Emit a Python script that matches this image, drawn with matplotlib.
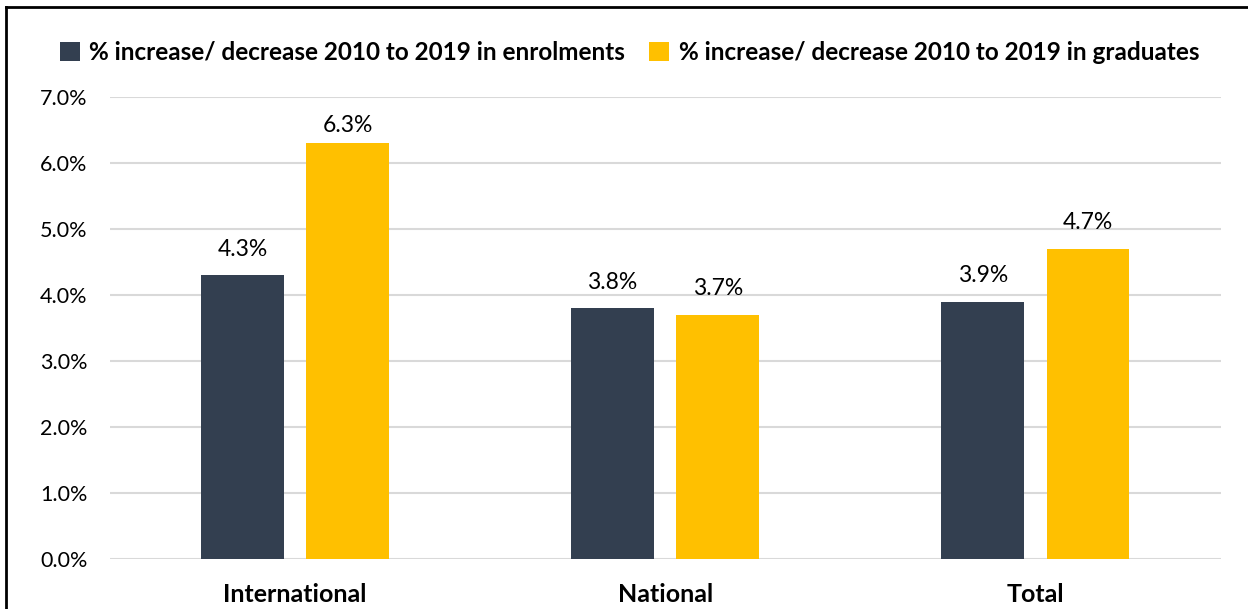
import numpy as np
import matplotlib.pyplot as plt
from matplotlib.lines import Line2D

plt.rcParams['font.family'] = ['Lato', 'DejaVu Sans']

categories = ['International', 'National', 'Total']
enrolments = [4.3, 3.8, 3.9]
graduates = [6.3, 3.7, 4.7]
series_names = ['% increase/ decrease 2010 to 2019 in enrolments',
                '% increase/ decrease 2010 to 2019 in graduates']
colors = ['#333F50', '#FFC000']

fig = plt.figure(figsize=(12.48, 6.09), dpi=100)
ax = fig.add_axes([0.088, 0.082, 0.89, 0.759])

x = np.arange(len(categories))
w = 0.224
off = 0.142
b1 = ax.bar(x - off, enrolments, w, color=colors[0], label=series_names[0], zorder=3)
b2 = ax.bar(x + off, graduates, w, color=colors[1], label=series_names[1], zorder=3)

# keep value labels inside the plot area
label_ceiling = 6.18
for bars, vals in ((b1, enrolments), (b2, graduates)):
    for r, v in zip(bars, vals):
        ax.annotate(f'{v:.1f}%', (r.get_x() + r.get_width() / 2, min(v, label_ceiling)),
                    xytext=(0, 11), textcoords='offset points',
                    ha='center', va='bottom', fontsize=16.5, color='#000000')

ax.set_xlim(-0.5, 2.5)
ax.set_ylim(0, 7)
ax.set_yticks(np.arange(0, 7.01, 1))
ax.set_yticklabels([f'{t:.1f}%' for t in np.arange(0, 7.01, 1)], fontsize=15.5)
ax.set_xticks(x)
ax.set_xticklabels(categories, fontsize=18, fontweight='bold')
ax.tick_params(length=0)
ax.tick_params(axis='y', pad=16)
ax.tick_params(axis='x', pad=17)
ax.grid(axis='y', color='#D9D9D9', linewidth=1.5, zorder=0)
for s in ax.spines.values():
    s.set_visible(False)

ax.legend(loc='lower center', bbox_to_anchor=(0.468, 1.05), ncol=2, frameon=False,
          prop={'size': 17.5, 'weight': 'bold'}, handlelength=0.8, handleheight=0.8,
          handletextpad=0.4, columnspacing=1.0, borderaxespad=0)

# outer frame (top and left edges)
fig.add_artist(Line2D([6 / 1248, 6 / 1248], [0, 1 - 7 / 609], color='black', lw=2))
fig.add_artist(Line2D([6 / 1248, 1], [1 - 7 / 609, 1 - 7 / 609], color='black', lw=2))

fig.savefig('out.png', dpi=100)
